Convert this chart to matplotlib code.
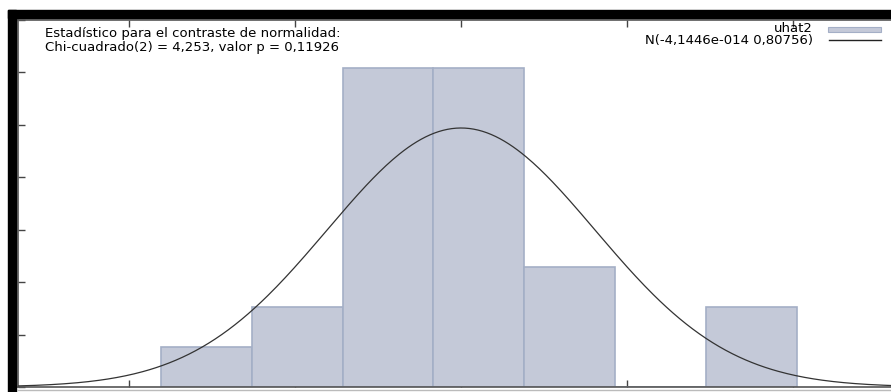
import numpy as np
import matplotlib.pyplot as plt
from matplotlib.patches import Rectangle

# residual histogram (7 bins between min and max of uhat2)
bin_edges = [-1.809, -1.262, -0.714, -0.167, 0.381, 0.928, 1.476, 2.024]
counts = [1, 2, 8, 8, 3, 0, 2]
n_obs = 24
norm_mean = -4.1446e-14
norm_sd = 0.80756

stat_text = ["Estadístico para el contraste de normalidad:",
             "Chi-cuadrado(2) = 4,253, valor p = 0,11926"]
legend_labels = ["uhat2", "N(-4,1446e-014 0,80756)"]

W, H = 891, 392
fig = plt.figure(figsize=(W / 100, H / 100), dpi=100)

# axes box in pixels: left 18, top 20, bottom 387, runs off the right edge
ax = fig.add_axes([18 / W, (H - 387) / H, (W - 18) / W, (387 - 20) / H])

edges = np.array(bin_edges)
width = edges[1] - edges[0]
dens = np.array(counts) / (n_obs * width)
bar_fc = "#c4c9d8"
bar_ec = "#a4afc6"
ax.bar(edges[:-1], dens, width=np.diff(edges), align="edge",
       color=bar_fc, edgecolor=bar_ec, linewidth=1.2, zorder=2)

xs = np.linspace(-2.672, 2.60, 400)
pdf = np.exp(-0.5 * ((xs - norm_mean) / norm_sd) ** 2) / (norm_sd * np.sqrt(2 * np.pi))
ax.plot(xs, pdf, color="#333333", lw=0.9, zorder=3)

ax.set_xlim(-2.672, 2.593)
ax.set_ylim(0, 0.7)
ax.set_xticks([-2, -1, 0, 1, 2])
ax.set_yticks(np.arange(0, 0.71, 0.1))
ax.tick_params(direction="in", length=5, width=1, color="#444444",
               top=True, right=False, labelbottom=False, labelleft=False)
for s in ["left", "bottom", "top"]:
    ax.spines[s].set_color("#555555")
    ax.spines[s].set_linewidth(1.2)
ax.spines["right"].set_visible(False)

# faint second rule under the x axis
fig.lines.append(plt.Line2D([18 / W, 1], [1 - 389.5 / H, 1 - 389.5 / H],
                            transform=fig.transFigure, color="#bbbbbb", lw=1.0))

fs = 9.5
fig.text(45 / W, 1 - 33 / H, stat_text[0], fontsize=fs, va="center", ha="left")
fig.text(45 / W, 1 - 48 / H, stat_text[1], fontsize=fs, va="center", ha="left")

# key entries, right aligned
fig.text(813 / W, 1 - 29 / H, legend_labels[0], fontsize=fs, va="center", ha="right")
fig.text(813 / W, 1 - 40.5 / H, legend_labels[1], fontsize=fs, va="center", ha="right")
fig.patches.append(Rectangle((828 / W, 1 - 32 / H), 53 / W, 5 / H,
                             transform=fig.transFigure, facecolor=bar_fc,
                             edgecolor=bar_ec, linewidth=0.8))
fig.lines.append(plt.Line2D([829 / W, 881 / W], [1 - 40 / H, 1 - 40 / H],
                            transform=fig.transFigure, color="#222222", lw=1.0))

# dark frame round the screenshot
fig.patches.append(Rectangle((8 / W, 1 - 18 / H), (W - 8) / W, 8 / H,
                             transform=fig.transFigure, color="black", zorder=10))
fig.patches.append(Rectangle((8 / W, 0), 8 / W, (H - 10) / H,
                             transform=fig.transFigure, color="black", zorder=10))

fig.savefig("out.png", dpi=100)
